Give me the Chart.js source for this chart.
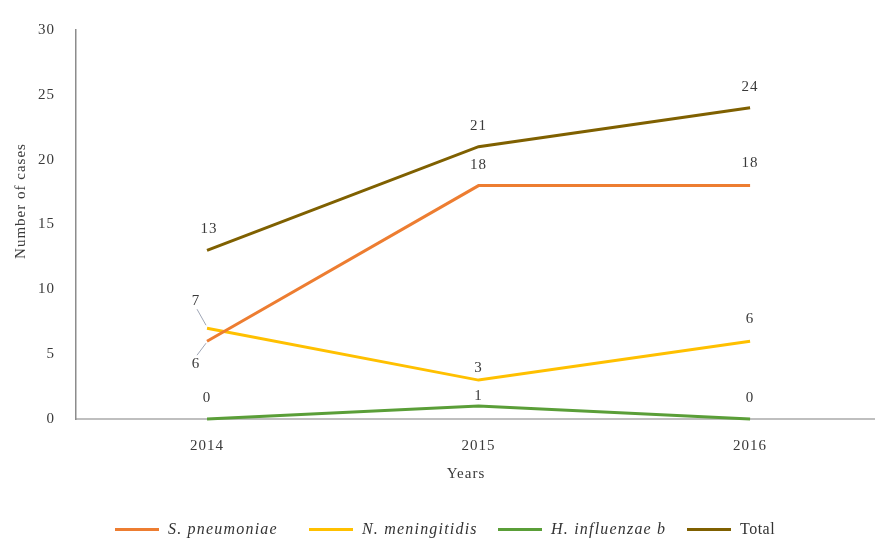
<!DOCTYPE html>
<html><head><meta charset="utf-8">
<script src="https://cdn.jsdelivr.net/npm/chart.js@4"></script>
<style>
html,body{margin:0;padding:0;background:#fff;overflow:hidden;}
#wrap{position:relative;width:875px;height:541px;}
#legend{position:absolute;left:0;top:518px;width:875px;height:22px;font-family:"Liberation Serif","Times New Roman",serif;font-size:16px;color:#333333;letter-spacing:1.2px;}
.item{position:absolute;top:0;height:22px;display:flex;align-items:center;white-space:nowrap;}
.swatch{display:inline-block;width:44px;height:3px;margin-right:9px;}
</style></head>
<body><div id="wrap"><canvas id="c" width="875" height="541"></canvas><div id="legend"></div></div>
<script>
const years = [2014, 2015, 2016];
const sPneumoniae = [6, 18, 18];
const nMeningitidis = [7, 3, 6];
const hInfluenzaeB = [0, 1, 0];
const total = [13, 21, 24];
const yTicks = [0, 5, 10, 15, 20, 25, 30];
const seriesNames = ['S. pneumoniae', 'N. meningitidis', 'H. influenzae b', 'Total'];
const seriesItalic = [true, true, true, false];
const xTitle = 'Years';
const yTitle = 'Number of cases';

const colors = ['#ED7D31', '#FFC000', '#5A9E38', '#7F6000'];
// label offsets [dx, dy] from each point, per series
const labelOffsets = [
  [[-11, 23], [0, -21], [0, -23]],
  [[-11, -27], [0, -12], [0, -22]],
  [[0, -21], [0, -10], [0, -21]],
  [[2, -21], [0, -21], [0, -21]]
];
const leaders = { '0-0': true, '1-0': true };

const seriesData = [sPneumoniae, nMeningitidis, hInfluenzaeB, total];
const FONT = '"Liberation Serif", "Times New Roman", serif';
const TEXT = '#3A3A3A';

const labelPlugin = {
  id: 'labels',
  beforeDraw(chart) { chart.ctx.letterSpacing = '1px'; },
  afterDatasetsDraw(chart) {
    const ctx = chart.ctx;
    ctx.save();
    ctx.letterSpacing = '1px';
    ctx.font = '15px ' + FONT;
    ctx.fillStyle = TEXT;
    ctx.textAlign = 'center';
    ctx.textBaseline = 'middle';
    chart.data.datasets.forEach((ds, si) => {
      const meta = chart.getDatasetMeta(si);
      meta.data.forEach((pt, i) => {
        const [dx, dy] = labelOffsets[si][i];
        const lx = pt.x + dx, ly = pt.y + dy;
        if (leaders[si + '-' + i]) {
          ctx.save();
          ctx.strokeStyle = '#9FA6B6';
          ctx.lineWidth = 1;
          ctx.beginPath();
          const sy = dy < 0 ? ly + 8 : ly - 9;
          ctx.moveTo(lx + 1, sy);
          ctx.lineTo(pt.x - 1, pt.y + (dy < 0 ? -3 : 2));
          ctx.stroke();
          ctx.restore();
        }
        ctx.fillText(String(seriesData[si][i]), lx, ly);
      });
    });
    // axis titles
    ctx.fillText(xTitle, 466, 474);
    ctx.translate(21, 201);
    ctx.rotate(-Math.PI / 2);
    ctx.fillText(yTitle, 0, 0);
    ctx.restore();
  }
};

new Chart(document.getElementById('c'), {
  type: 'line',
  data: {
    datasets: seriesNames.map((name, si) => ({
      label: name,
      data: years.map((yr, i) => ({ x: yr, y: seriesData[si][i] })),
      borderColor: colors[si],
      backgroundColor: colors[si],
      borderWidth: 3,
      pointRadius: 0,
      tension: 0,
      clip: false
    }))
  },
  options: {
    responsive: false,
    animation: false,
    devicePixelRatio: 1,
    layout: { padding: { top: 26, right: 0, bottom: 0, left: 0 } },
    plugins: { legend: { display: false }, tooltip: { enabled: false } },
    scales: {
      x: {
        type: 'linear',
        min: 2013.5175,
        max: 2016.46,
        afterBuildTicks: s => { s.ticks = years.map(v => ({ value: v })); },
        afterFit: s => { s.height = 122; },
        grid: { display: false, drawTicks: false },
        border: { display: true, color: '#BFBFBF', width: 2 },
        ticks: { color: TEXT, font: { family: FONT, size: 15 }, padding: 18, callback: v => String(v), maxRotation: 0, autoSkip: false }
      },
      y: {
        min: 0,
        max: 30,
        afterBuildTicks: s => { s.ticks = yTicks.map(v => ({ value: v })); },
        afterFit: s => { s.width = 76; },
        grid: { display: false, drawTicks: false },
        border: { display: true, color: '#8C8C8C', width: 1.5 },
        ticks: { color: TEXT, font: { family: FONT, size: 15 }, padding: 21 }
      }
    }
  },
  plugins: [labelPlugin]
});

// HTML legend
const legendPos = [115, 309, 498, 687];
const legend = document.getElementById('legend');
seriesNames.forEach((name, si) => {
  const it = document.createElement('div');
  it.className = 'item';
  it.style.left = legendPos[si] + 'px';
  const sw = document.createElement('span');
  sw.className = 'swatch';
  sw.style.background = colors[si];
  const tx = document.createElement('span');
  tx.textContent = name;
  if (seriesItalic[si]) tx.style.fontStyle = 'italic';
  else tx.style.letterSpacing = '0.5px';
  it.appendChild(sw);
  it.appendChild(tx);
  legend.appendChild(it);
});
</script>
</body></html>
